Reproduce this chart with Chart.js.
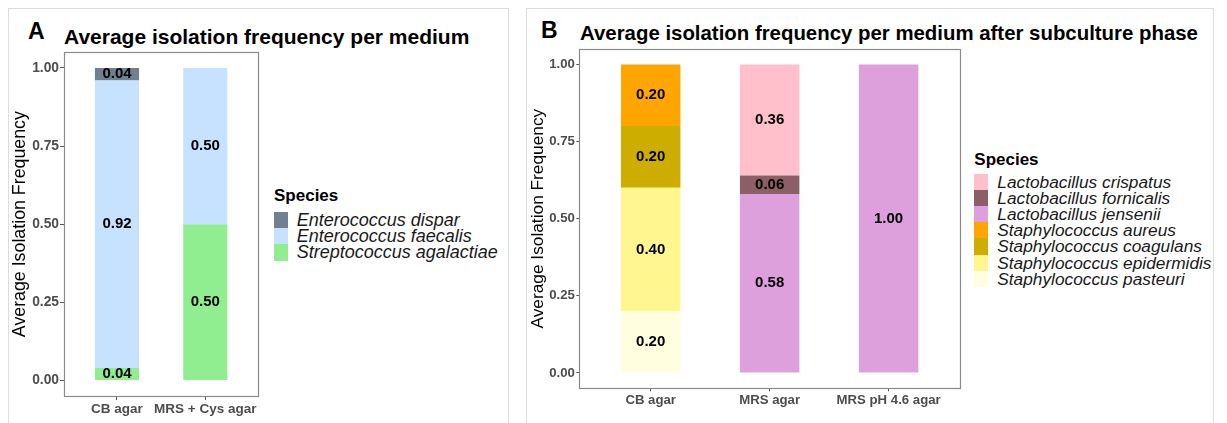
<!DOCTYPE html>
<html><head><meta charset="utf-8">
<script src="https://cdn.jsdelivr.net/npm/chart.js@4.4.1/dist/chart.umd.min.js"></script>
<style>
html,body{margin:0;padding:0;background:#fff;}
body{width:1227px;height:423px;position:relative;overflow:hidden;font-family:"Liberation Sans",Arial,sans-serif;}
.frame{position:absolute;border:1px solid #dcdcdc;box-sizing:border-box;}
.abs{position:absolute;white-space:nowrap;line-height:1;color:#000;}
.tag{font-weight:bold;font-size:23px;}
.title{font-weight:bold;}
.lt{position:absolute;font-weight:bold;font-size:17px;line-height:1;white-space:nowrap;color:#000;}
.rows{position:absolute;}
.row{display:flex;align-items:center;}
.key{flex:none;}
.lab{font-style:italic;white-space:nowrap;color:#1a1a1a;}
canvas{position:absolute;}
</style></head>
<body>
<div class="frame" style="left:8px;top:8px;width:501px;height:430px;"></div>
<div class="frame" style="left:526px;top:8px;width:688px;height:430px;"></div>
<div class="abs tag" style="left:28px;top:20px;">A</div>
<div class="abs title" style="left:64px;top:25.5px;font-size:21px;">Average isolation frequency per medium</div>
<div class="abs tag" style="left:541px;top:19px;">B</div>
<div class="abs title" style="left:580px;top:23.4px;font-size:20.4px;">Average isolation frequency per medium after subculture phase</div>
<canvas id="cA" width="270" height="423" style="left:0;top:0;width:270px;height:423px;"></canvas>
<canvas id="cB" width="450" height="423" style="left:520px;top:0;width:450px;height:423px;"></canvas>
<div id="legA"></div>
<div id="legB"></div>
<script>
// ---------- data ----------
const categoriesA = ["CB agar", "MRS + Cys agar"];
const speciesA = ["Enterococcus dispar", "Enterococcus faecalis", "Streptococcus agalactiae"];
const enterococcusDispar = [0.04, 0.00];
const enterococcusFaecalis = [0.92, 0.50];
const streptococcusAgalactiae = [0.04, 0.50];

const categoriesB = ["CB agar", "MRS agar", "MRS pH 4.6 agar"];
const speciesB = ["Lactobacillus crispatus", "Lactobacillus fornicalis", "Lactobacillus jensenii",
  "Staphylococcus aureus", "Staphylococcus coagulans", "Staphylococcus epidermidis", "Staphylococcus pasteuri"];
const lactobacillusCrispatus = [0.00, 0.36, 0.00];
const lactobacillusFornicalis = [0.00, 0.06, 0.00];
const lactobacillusJensenii = [0.00, 0.58, 1.00];
const staphylococcusAureus = [0.20, 0.00, 0.00];
const staphylococcusCoagulans = [0.20, 0.00, 0.00];
const staphylococcusEpidermidis = [0.40, 0.00, 0.00];
const staphylococcusPasteuri = [0.20, 0.00, 0.00];

const yTickValues = [0, 0.25, 0.50, 0.75, 1.00];
const yAxisTitle = "Average Isolation Frequency";
const legendTitle = "Species";

// ---------- styles ----------
const colorsA = ["#708090", "#C6E2FF", "#90EE90"];
const colorsB = ["#FFC0CB", "#8B5F65", "#DDA0DD", "#FFA500", "#CDAD00", "#FFF68F", "#FFFFE0"];
const FONT = '"Liberation Sans", Arial, sans-serif';

const segLabels = {
  id: 'segLabels',
  afterDatasetsDraw(chart) {
    const ctx = chart.ctx;
    ctx.save();
    ctx.font = 'bold 15px ' + FONT;
    ctx.fillStyle = '#000';
    ctx.textAlign = 'center';
    ctx.textBaseline = 'middle';
    chart.data.datasets.forEach((ds, di) => {
      const meta = chart.getDatasetMeta(di);
      meta.data.forEach((el, j) => {
        const v = ds.data[j].y;
        if (!(v > 0)) return;
        const p = el.getProps(['x', 'y', 'base'], true);
        ctx.fillText(v.toFixed(2), p.x, (p.y + p.base) / 2);
      });
    });
    ctx.restore();
  }
};
const frameBox = {
  id: 'frameBox',
  afterDraw(chart) {
    const {left, top, right, bottom} = chart.chartArea;
    const ctx = chart.ctx;
    ctx.save();
    ctx.strokeStyle = '#8a8a8a';
    ctx.lineWidth = 1.2;
    ctx.strokeRect(Math.round(left) + 0.5, Math.round(top) + 0.5, Math.round(right - left), Math.round(bottom - top));
    ctx.restore();
  }
};

function makePanel(canvasId, cats, species, values, colors, L) {
  const datasets = species.map((name, k) => ({
    label: name,
    data: values[k].map((v, i) => ({x: i + 1, y: v})),
    backgroundColor: colors[k],
    borderWidth: 0
  })).reverse();
  const tickGrid = {display: true, offset: false, drawOnChartArea: false, drawTicks: true, tickLength: L.tl, color: '#555', lineWidth: 1};
  return new Chart(document.getElementById(canvasId), {
    type: 'bar',
    data: {datasets},
    plugins: [segLabels, frameBox],
    options: {
      responsive: false, animation: false, devicePixelRatio: 1,
      layout: {padding: {left: 0, top: L.top, right: L.right, bottom: L.bottom}},
      plugins: {legend: {display: false}, tooltip: {enabled: false}, title: {display: false}},
      datasets: {bar: {categoryPercentage: 1, barPercentage: 0.5}},
      scales: {
        x: {
          type: 'linear', stacked: true, offset: false, bounds: 'data',
          min: 0.4, max: cats.length + 0.6,
          afterBuildTicks: s => { s.ticks = cats.map((c, i) => ({value: i + 1})); },
          afterFit: s => { s.height = L.xH; },
          ticks: {autoSkip: false, maxRotation: 0, minRotation: 0, padding: L.xPad,
            callback: v => cats[Math.round(v) - 1] || '',
            color: '#4d4d4d', font: {family: FONT, weight: 'bold', size: L.xFs}},
          grid: tickGrid, border: {display: false}
        },
        y: {
          type: 'linear', stacked: true, min: -0.05, max: 1.05,
          afterBuildTicks: s => { s.ticks = yTickValues.map(v => ({value: v})); },
          afterFit: s => { s.width = L.yW; },
          ticks: {padding: L.yPad, callback: v => Number(v).toFixed(2),
            color: '#4d4d4d', font: {family: FONT, weight: 'bold', size: L.yFs}},
          title: {display: true, text: yAxisTitle, color: '#000',
            font: {family: FONT, size: L.tFs}, padding: {top: L.tPad, bottom: 0}},
          grid: tickGrid, border: {display: false}
        }
      }
    }
  });
}

function makeLegend(id, species, colors, L) {
  const root = document.getElementById(id);
  const t = document.createElement('div');
  t.className = 'lt';
  t.style.left = L.left + 'px';
  t.style.top = L.titleTop + 'px';
  t.textContent = legendTitle;
  root.appendChild(t);
  const rows = document.createElement('div');
  rows.className = 'rows';
  rows.style.left = L.left + 'px';
  rows.style.top = L.rowsTop + 'px';
  species.forEach((name, k) => {
    const r = document.createElement('div');
    r.className = 'row';
    r.style.height = L.keyH + 'px';
    const key = document.createElement('div');
    key.className = 'key';
    key.style.width = L.keyW + 'px';
    key.style.height = L.keyH + 'px';
    key.style.background = colors[k];
    const lab = document.createElement('div');
    lab.className = 'lab';
    lab.style.marginLeft = L.gap + 'px';
    lab.style.fontSize = L.fs + 'px';
    lab.style.lineHeight = L.keyH + 'px';
    lab.textContent = name;
    r.appendChild(key); r.appendChild(lab);
    rows.appendChild(r);
  });
  root.appendChild(rows);
}

makePanel('cA', categoriesA, speciesA,
  [enterococcusDispar, enterococcusFaecalis, streptococcusAgalactiae], colorsA,
  {top: 52.3, right: 11.7, bottom: 7, xH: 20, yW: 64, tl: 4, xPad: 1, yPad: 1,
   xFs: 13.5, yFs: 13.8, tFs: 17.8, tPad: 9});
makePanel('cB', categoriesB, speciesB,
  [lactobacillusCrispatus, lactobacillusFornicalis, lactobacillusJensenii, staphylococcusAureus,
   staphylococcusCoagulans, staphylococcusEpidermidis, staphylococcusPasteuri], colorsB,
  {top: 49, right: 10, bottom: 14.7, xH: 20, yW: 59.3, tl: 3, xPad: 1, yPad: 1.5,
   xFs: 13.2, yFs: 13.2, tFs: 17.3, tPad: 7.8});

makeLegend('legA', speciesA, colorsA, {left: 274, titleTop: 187.4, rowsTop: 211.7, keyW: 13.5, keyH: 16.4, gap: 9.2, fs: 18});
makeLegend('legB', speciesB, colorsB, {left: 974.3, titleTop: 150.7, rowsTop: 174.3, keyW: 13.4, keyH: 16.05, gap: 9.6, fs: 17.3});
</script>
</body></html>
